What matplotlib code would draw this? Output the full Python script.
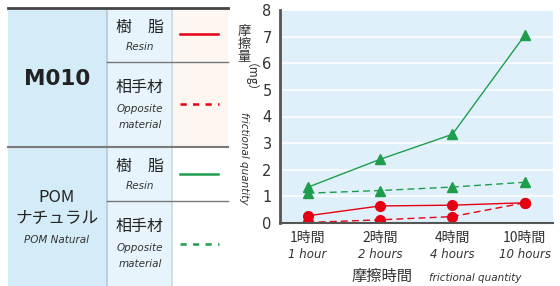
import matplotlib
matplotlib.use("Agg")
import matplotlib.pyplot as plt
from matplotlib.patches import Rectangle

plt.rcParams["font.family"] = ["Noto Sans CJK JP", "DejaVu Sans"]

# データ
hours_jp = ["1時間", "2時間", "4時間", "10時間"]
hours_en = ["1 hour", "2 hours", "4 hours", "10 hours"]
m010_resin = [0.27, 0.64, 0.67, 0.76]
m010_opp = [0.02, 0.12, 0.24, 0.76]
pom_resin = [1.34, 2.39, 3.33, 7.05]
pom_opp = [1.12, 1.22, 1.35, 1.53]
yticks = [0, 1, 2, 3, 4, 5, 6, 7, 8]

RED = "#e60012"
GREEN = "#1e9e4c"
W, H = 560, 286

fig = plt.figure(figsize=(W / 100, H / 100), dpi=100)

# 左の表 (ピクセル座標)
bg = fig.add_axes([0, 0, 1, 1])
bg.set_xlim(0, W)
bg.set_ylim(H, 0)
bg.axis("off")

bg.add_patch(Rectangle((8, 8), 99, H - 8, color="#d4ebf8", lw=0))
bg.add_patch(Rectangle((107, 8), 65, H - 8, color="#e7f4fc", lw=0))
bg.add_patch(Rectangle((172, 8), 56, 139, color="#fdf6f1", lw=0))
bg.plot([107, 107], [8, H], color="#b3cad8", lw=1.2)
bg.plot([172, 172], [8, H], color="#c8dbe6", lw=1.2)
bg.plot([8, 228], [8, 8], color="#444444", lw=2)
bg.plot([8, 228], [147, 147], color="#7a7a7a", lw=1.5)
bg.plot([107, 228], [62, 62], color="#777777", lw=1)
bg.plot([107, 228], [201, 201], color="#777777", lw=1)

bg.text(57, 79, "M010", ha="center", va="center", fontsize=15.5,
        fontweight="bold", family="DejaVu Sans", color="#222222")
bg.text(57, 197, "POM", ha="center", va="center", fontsize=12, color="#222222")
bg.text(57, 218, "ナチュラル", ha="center", va="center", fontsize=12, color="#222222")
bg.text(57, 240, "POM Natural", ha="center", va="center", fontsize=7.5,
        style="italic", family="DejaVu Sans", color="#333333")

for top in (0, 139):
    bg.text(140, 27 + top, "樹　脂", ha="center", va="center", fontsize=11.5, color="#222222")
    bg.text(140, 47 + top, "Resin", ha="center", va="center", fontsize=7.5,
            style="italic", family="DejaVu Sans", color="#333333")
    bg.text(140, 87 + top, "相手材", ha="center", va="center", fontsize=11.5, color="#222222")
    bg.text(140, 109 + top, "Opposite", ha="center", va="center", fontsize=7.5,
            style="italic", family="DejaVu Sans", color="#333333")
    bg.text(140, 125 + top, "material", ha="center", va="center", fontsize=7.5,
            style="italic", family="DejaVu Sans", color="#333333")

bg.plot([180, 218], [34, 34], color=RED, lw=1.8)
bg.plot([180, 219], [104, 104], color=RED, lw=1.8, ls=(0, (2.5, 2.5)))
bg.plot([180, 218], [174, 174], color=GREEN, lw=1.8)
bg.plot([180, 219], [244, 244], color=GREEN, lw=1.8, ls=(0, (2.5, 2.5)))

# グラフ
ax = fig.add_axes([280 / W, (H - 223) / H, 273 / W, 213 / H])
ax.set_facecolor("#dff0fa")
x = range(len(hours_jp))
ax.plot(x, pom_resin, color=GREEN, lw=1, marker="^", ms=7)
ax.plot(x, pom_opp, color=GREEN, lw=1, ls=(0, (5, 3)), marker="^", ms=7)
ax.plot(x, m010_resin, color=RED, lw=1, marker="o", ms=7)
ax.plot(x, m010_opp, color=RED, lw=1, ls=(0, (5, 3)), marker="o", ms=7)

ax.set_xlim(-0.38, 3.39)
ax.set_ylim(0, 8)
ax.set_yticks(yticks)
ax.set_yticklabels([str(v) for v in yticks], fontsize=10.5, color="#333333",
                   family="DejaVu Sans")
ax.set_xticks([])
ax.tick_params(axis="y", length=0, pad=6)
ax.grid(axis="y", color="white", lw=1.2)
ax.set_axisbelow(True)
for s in ("top", "right"):
    ax.spines[s].set_visible(False)
ax.spines["left"].set_color("#555555")
ax.spines["left"].set_linewidth(2)
ax.spines["bottom"].set_color("#555555")
ax.spines["bottom"].set_linewidth(1.5)

for i, (jp, en) in enumerate(zip(hours_jp, hours_en)):
    px = 280 + (i + 0.38) / 3.77 * 273
    bg.text(px, 238, jp, ha="center", va="center", fontsize=10, color="#333333")
    bg.text(px, 254, en, ha="center", va="center", fontsize=8.5,
            style="italic", family="DejaVu Sans", color="#333333")

bg.text(382, 276, "摩擦時間", ha="center", va="center", fontsize=11, color="#333333")
bg.text(475, 278, "frictional quantity", ha="center", va="center", fontsize=7.5,
        style="italic", family="DejaVu Sans", color="#333333")

# 縦の軸ラベル
for j, ch in enumerate("摩擦量"):
    bg.text(244, 31 + j * 13.5, ch, ha="center", va="center", fontsize=9.5, color="#333333")
bg.text(244, 84, "（mg）", ha="center", va="center", fontsize=8.5, rotation=-90,
        color="#333333")
bg.text(244, 158, "frictional quantity", ha="center", va="center", fontsize=7.5,
        rotation=-90, style="italic", family="DejaVu Sans", color="#333333")

fig.savefig("out.png", dpi=100)
